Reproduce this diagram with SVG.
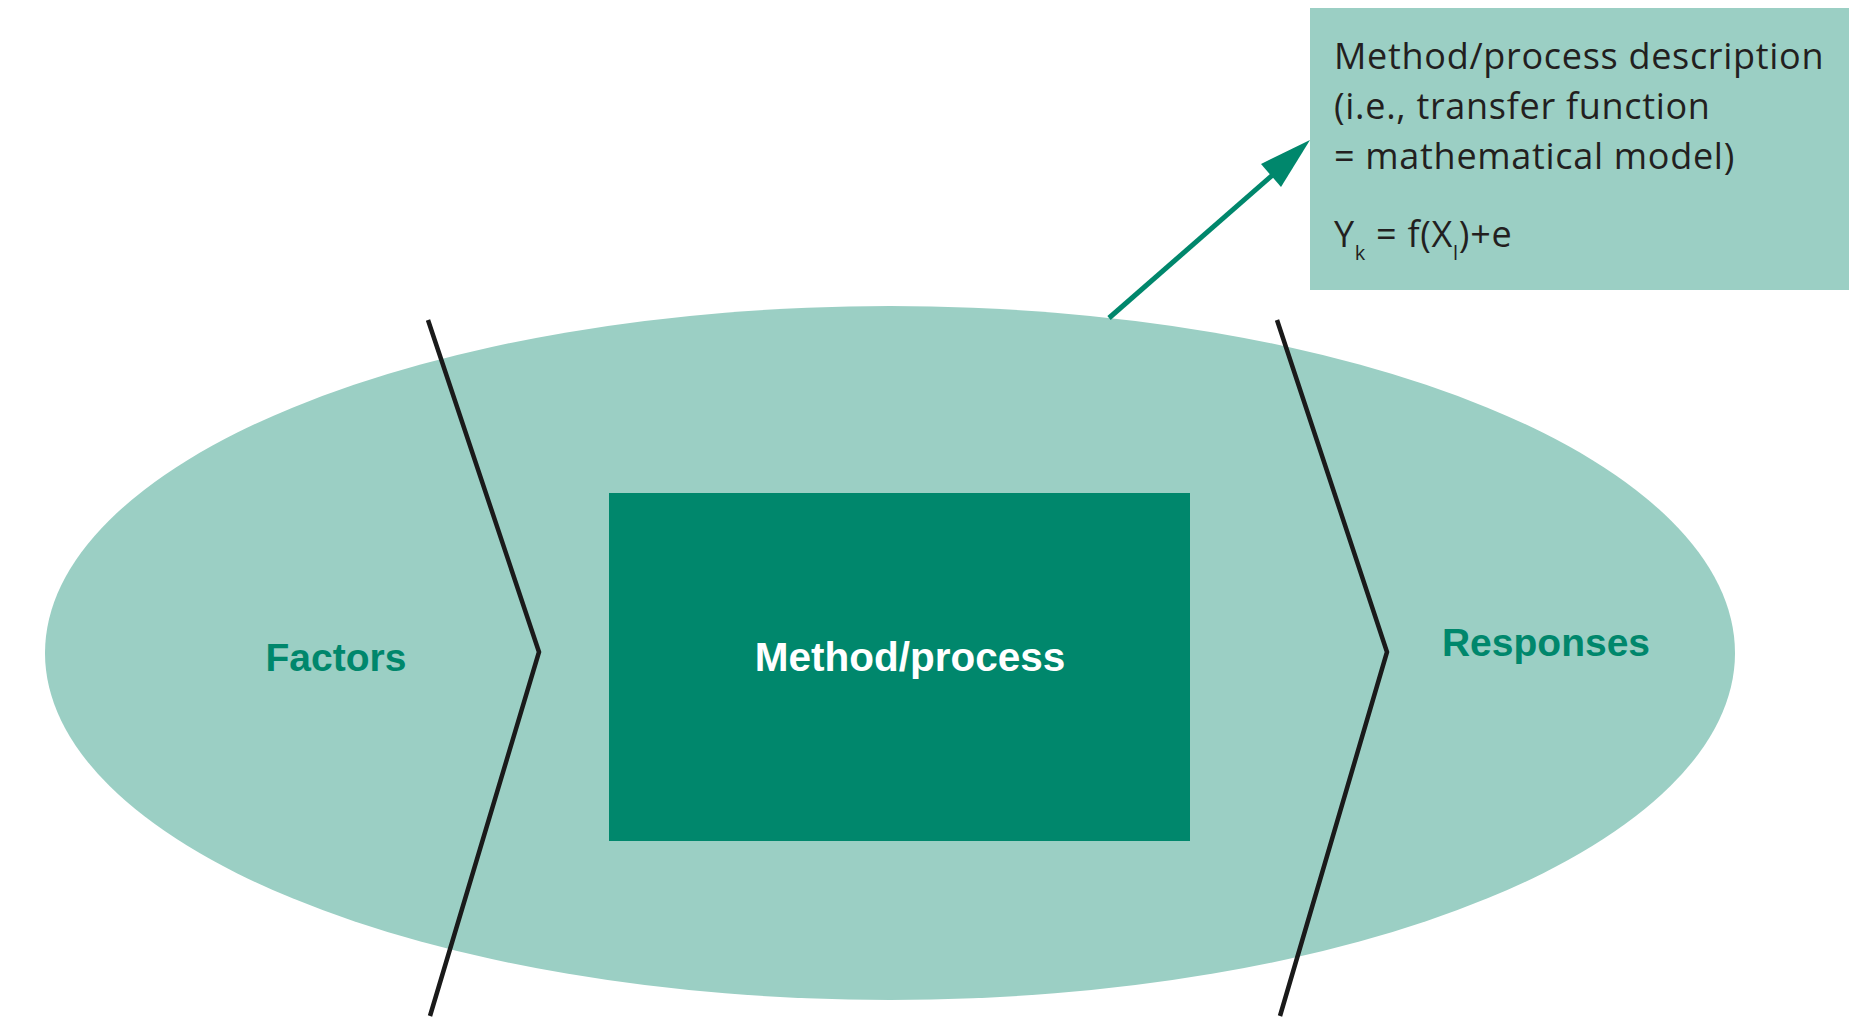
<svg xmlns="http://www.w3.org/2000/svg" width="1870" height="1017" viewBox="0 0 1870 1017">
<style>
.light{fill:#9bcfc4}
.dark{fill:#00876c}
.chev{fill:none;stroke:#1a1a1a;stroke-width:4.5}
.lbl{font-family:"Liberation Sans",Arial,sans-serif;font-weight:bold;font-size:39px}
.desc{font-family:"Open Sans","Liberation Sans",sans-serif;font-size:36px;letter-spacing:0.7px;fill:#231f20}
.sub{font-size:20px}
</style>
<rect width="1870" height="1017" fill="#ffffff"/>
<g id="system">
<ellipse class="light" cx="890" cy="653" rx="845" ry="347"/>
</g>
<g id="factors">
<text class="lbl" x="336" y="671" text-anchor="middle" fill="#00876c">Factors</text>
</g>
<g id="method">
<rect class="dark" x="609" y="493" width="581" height="348"/>
<text class="lbl" x="910" y="671" text-anchor="middle" fill="#ffffff" style="font-size:40.5px">Method/process</text>
</g>
<g id="responses">
<text class="lbl" x="1546" y="656" text-anchor="middle" fill="#00876c">Responses</text>
</g>
<g id="description">
<rect class="light" x="1310" y="8" width="539" height="282"/>
<text class="desc" x="1334" y="69">Method/process description</text>
<text class="desc" x="1334" y="119">(i.e., transfer function</text>
<text class="desc" x="1334" y="169">= mathematical model)</text>
<text class="desc" x="1334" y="247">Y<tspan class="sub" dy="13">k</tspan><tspan dy="-13"> = f(X</tspan><tspan class="sub" dy="13">l</tspan><tspan dy="-13">)+e</tspan></text>
</g>
<g id="connectors">
<polyline class="chev" points="428,320 539,652 430,1016"/>
<polyline class="chev" points="1277,320 1387,652 1280,1016"/>
<line x1="1109" y1="318" x2="1276" y2="172" stroke="#00876c" stroke-width="5"/>
<polygon points="1310,140 1261,164 1281,187" fill="#00876c"/>
</g>
</svg>
